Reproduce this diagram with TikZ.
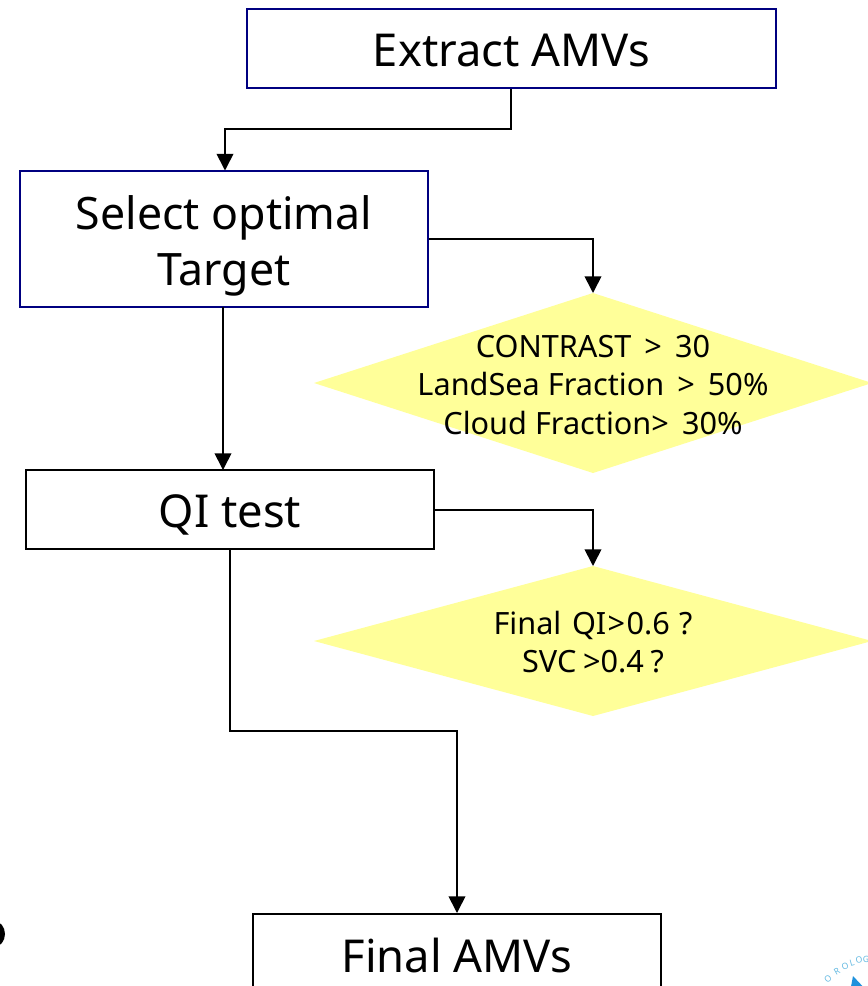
\documentclass[tikz,border=0pt]{standalone}
\usepackage{fontspec}
\setmainfont{Noto Sans}
\usetikzlibrary{arrows.meta,shapes.geometric}
\definecolor{boxblue}{RGB}{0,0,128}
\definecolor{diafill}{RGB}{255,255,153}
\definecolor{logoblue}{RGB}{30,145,220}
\definecolor{logotext}{RGB}{100,185,225}
\tikzset{
  flowbox/.style={draw=black,line width=1.2pt,fill=white,inner sep=0pt},
  bluebox/.style={flowbox,draw=boxblue},
  boxlabel/.style={inner sep=0pt,align=center,font=\fontsize{34}{42}\selectfont},
  dia/.style={fill=diafill},
  diatext/.style={inner sep=0pt,align=center,font=\fontsize{23}{29}\selectfont},
  conn/.style={draw=black,line width=1.25pt,-{Triangle[length=12.5pt,width=12.5pt,fill=black]}},
  logoletter/.style={inner sep=0pt,text=logotext,font=\bfseries\fontsize{6.5}{7}\selectfont}
}
\begin{document}
\begin{tikzpicture}[x=0.75pt,y=-0.75pt]
\useasboundingbox (0,0) rectangle (868,986);
\begin{scope}
\clip (0,0) rectangle (868,986);
% diamonds
\fill[dia] (314,383) -- (593,293) -- (872,383) -- (593,473) -- cycle;
\fill[dia] (314,641) -- (593,566) -- (872,641) -- (593,716) -- cycle;
\coordinate (d1top) at (593,293);
\coordinate (d2top) at (593,566);
% boxes
\node[bluebox,minimum width=396.75pt,minimum height=59.25pt] (extract) at (511.5,48.5) {};
\node[boxlabel] (extractlabel) at (511.5,50) {Extract AMVs};
\node[bluebox,minimum width=306pt,minimum height=102pt] (select) at (224,239) {};
\node[boxlabel,font=\fontsize{33.5}{42}\selectfont] (selectlabel) at (224,246) {Select optimal\\Target};
\node[flowbox,minimum width=306pt,minimum height=59.25pt] (qi) at (230,509.5) {};
\node[boxlabel] (qilabel) at (230,515) {QI test};
\node[flowbox,minimum width=306pt,minimum height=80pt,anchor=north] (final) at (457,913) {};
\node[boxlabel] (finallabel) at (457,955) {Final AMVs};
% diamond texts
\node[diatext] (d1) at (593,385) {CONTRAST \,>\, 30\\LandSea Fraction \,>\, 50\%\\Cloud Fraction> \,30\%};
\node[diatext] (d2) at (593,642) {Final\hspace{2pt} QI\hspace{1pt}>\hspace{1pt}0.6\hspace{1pt} ?\\SVC\hspace{-1pt} >0.4\hspace{-1pt} ?};
% connectors
\draw[conn] (extract.south -| 511,0) |- (225,129) -- (225,170.5);
\draw[conn] (select.east |- 0,239) -| (d1top);
\draw[conn] (223,307) -- (223,470) coordinate (qitop);
\draw[conn] (qi.east |- 0,510) -| (d2top);
\draw[conn] (230,549) |- (457,731) -- (final.north);
% cropped fragments
\fill[black] (-6,934) ellipse (11 and 13);
\fill[logoblue] (853,976) -- (868,992) -- (850,992) -- cycle;
\foreach \t/\x/\y/\r in {O/828/979/40,R/837/971/30,O/845/966/22,L/852/963/15,O/859/960/8,G/866/959/0}
  \node[logoletter,rotate=\r] at (\x,\y) {\t};
\end{scope}
\end{tikzpicture}
\end{document}
